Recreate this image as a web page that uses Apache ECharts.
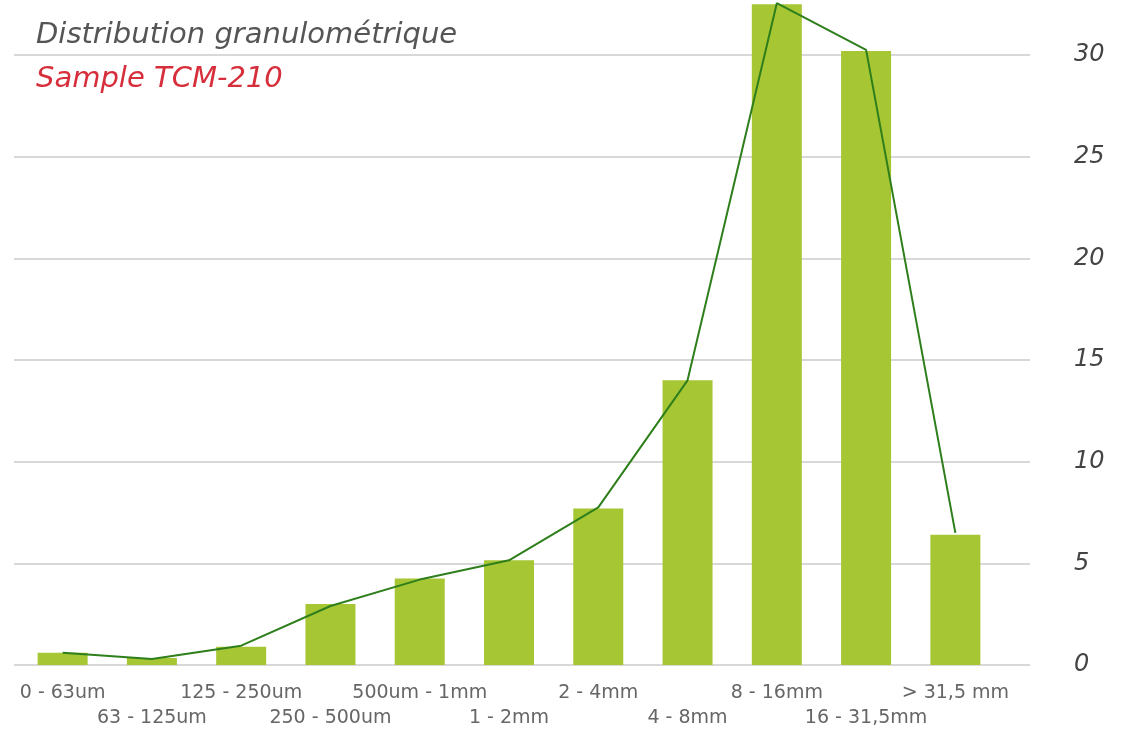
<!DOCTYPE html>
<html>
<head>
<meta charset="utf-8">
<script src="https://cdn.jsdelivr.net/npm/echarts@6/dist/echarts.min.js"></script>
<style>
  html, body { margin: 0; padding: 0; background: #fff; }
  #main { width: 1122px; height: 739px; }
</style>
</head>
<body>
<div id="main"></div>
<script>
var classes = ['0 - 63um', '63 - 125um', '125 - 250um', '250 - 500um', '500um - 1mm',
  '1 - 2mm', '2 - 4mm', '4 - 8mm', '8 - 16mm', '16 - 31,5mm', '> 31,5 mm'];
var pourcentage = [0.6, 0.35, 0.9, 3.0, 4.25, 5.15, 7.7, 14.0, 32.5, 30.2, 6.4];
var courbe = [0.6, 0.3, 0.95, 2.9, 4.2, 5.15, 7.75, 14.0, 32.55, 30.25, 6.5];

var myChart = echarts.init(document.getElementById('main'));

var option = {
  animation: false,
  title: [{
    text: 'Distribution granulométrique',
    left: 31,
    top: 16,
    textStyle: { color: '#555', fontStyle: 'italic', fontWeight: 'normal', fontSize: 29, fontFamily: 'DejaVu Sans' }
  }, {
    text: 'Sample TCM-210',
    left: 31,
    top: 60,
    textStyle: { color: '#d62e3b', fontStyle: 'italic', fontWeight: 'normal', fontSize: 29, fontFamily: 'DejaVu Sans' }
  }],
  grid: [
    { left: 14, right: 92, top: 55, bottom: 74 },
    { left: 18, right: 122, top: 55, bottom: 74 }
  ],
  xAxis: [{
    gridIndex: 0,
    type: 'category',
    data: classes,
    show: false
  }, {
    gridIndex: 1,
    type: 'category',
    data: classes,
    axisLine: { show: false },
    axisTick: { show: false },
    axisLabel: {
      interval: 0,
      margin: 16,
      color: '#666',
      fontSize: 19,
      fontFamily: 'DejaVu Sans',
      lineHeight: 25,
      formatter: function (v, i) { return i % 2 ? '\n' + v : v; }
    }
  }],
  yAxis: [{
    gridIndex: 0,
    type: 'value',
    position: 'right',
    min: 0,
    max: 30,
    interval: 5,
    axisLine: { show: false },
    axisTick: { show: false },
    splitLine: { lineStyle: { color: '#d8d8d8', width: 2 } },
    axisLabel: {
      margin: 44,
      align: 'left',
      color: '#444',
      fontStyle: 'italic',
      fontSize: 24,
      fontFamily: 'DejaVu Sans'
    }
  }, {
    gridIndex: 1,
    type: 'value',
    min: 0,
    max: 30,
    show: false
  }],
  series: [{
    name: 'Pourcentage',
    type: 'bar',
    xAxisIndex: 1,
    yAxisIndex: 1,
    barWidth: 50,
    clip: false,
    itemStyle: { color: '#a6c634' },
    data: pourcentage
  }, {
    name: 'Courbe',
    type: 'line',
    xAxisIndex: 1,
    yAxisIndex: 1,
    clip: false,
    symbol: 'none',
    lineStyle: { color: '#2e7f1b', width: 2 },
    data: courbe
  }]
};
myChart.setOption(option);
</script>
</body>
</html>
